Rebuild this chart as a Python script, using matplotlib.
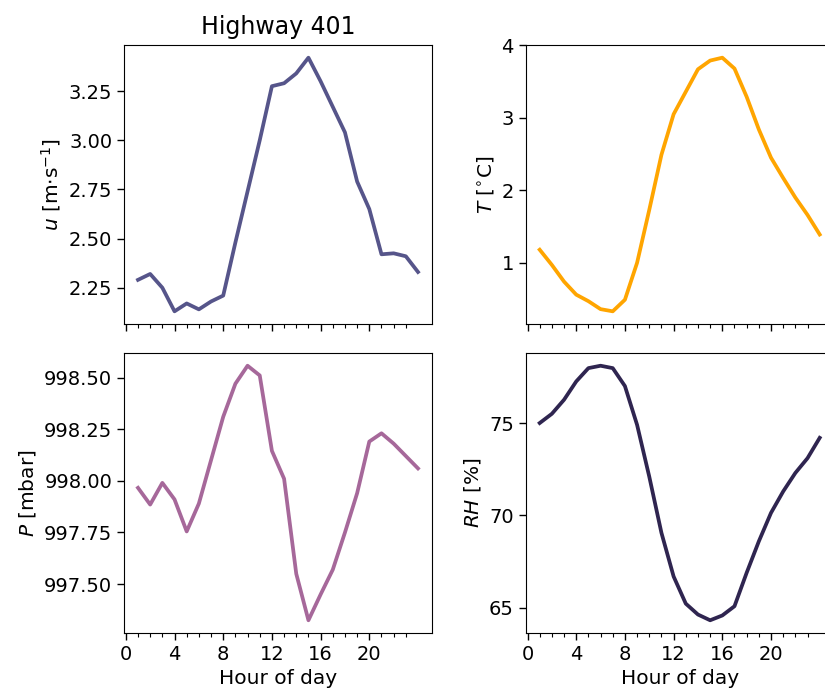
import matplotlib
matplotlib.use("Agg")
import matplotlib.pyplot as plt
from matplotlib.ticker import MultipleLocator, FormatStrFormatter

hours = list(range(1, 25))
wind_speed = [2.29, 2.32, 2.25, 2.13, 2.17, 2.14, 2.18, 2.21, 2.48, 2.74, 3.00, 3.275,
              3.29, 3.34, 3.42, 3.30, 3.17, 3.04, 2.79, 2.65, 2.42, 2.425, 2.41, 2.33]
temperature = [1.18, 0.97, 0.74, 0.56, 0.47, 0.36, 0.33, 0.49, 1.00, 1.73, 2.49, 3.05,
               3.36, 3.67, 3.79, 3.83, 3.68, 3.29, 2.84, 2.45, 2.17, 1.90, 1.66, 1.39]
pressure = [997.966, 997.885, 997.99, 997.91, 997.755, 997.89, 998.10, 998.31, 998.47,
            998.557, 998.51, 998.145, 998.01, 997.55, 997.325, 997.45, 997.57, 997.75,
            997.94, 998.19, 998.23, 998.18, 998.12, 998.06]
humidity = [75.0, 75.5, 76.26, 77.25, 77.97, 78.1, 77.97, 77.0, 74.9, 72.1, 69.06, 66.7,
            65.23, 64.64, 64.33, 64.59, 65.09, 66.9, 68.6, 70.14, 71.3, 72.3, 73.1, 74.2]

major_ticks = [0, 4, 8, 12, 16, 20]
minor_ticks = list(range(0, 24))

fig = plt.figure(figsize=(8.25, 6.94), dpi=100)
w = 308 / 825
positions = {
    "u": [124 / 825, 1 - 324 / 694, w, 279 / 694],
    "T": [525.7 / 825, 1 - 324 / 694, w, 279 / 694],
    "P": [124 / 825, 1 - 633 / 694, w, 280 / 694],
    "RH": [525.7 / 825, 1 - 633 / 694, w, 280 / 694],
}
specs = [
    ("u", wind_speed, "#56558a", r"$u$ [m$\cdot$s$^{-1}$]", 0.25, "%.2f"),
    ("T", temperature, "#ffa500", r"$T$ [$^{\circ}$C]", 1, "%d"),
    ("P", pressure, "#a6689a", r"$P$ [mbar]", 0.25, "%.2f"),
    ("RH", humidity, "#2f2550", r"$RH$ [%]", 5, "%d"),
]

for key, vals, col, lab, step, fmt in specs:
    ax = fig.add_axes(positions[key])
    ax.plot(hours, vals, color=col, lw=2.7)
    ax.set_xticks(major_ticks)
    ax.set_xticks(minor_ticks, minor=True)
    ax.yaxis.set_major_locator(MultipleLocator(step))
    ax.yaxis.set_major_formatter(FormatStrFormatter(fmt))
    ax.set_ylabel(lab, fontsize=14.5)
    ax.tick_params(axis="both", which="major", labelsize=14, length=5, width=1)
    ax.tick_params(axis="x", which="minor", length=3, width=0.8)
    if key in ("u", "T"):
        ax.tick_params(axis="x", labelbottom=False)
    else:
        ax.set_xlabel("Hour of day", fontsize=14.5)
    if key == "u":
        ax.set_title("Highway 401", fontsize=17, pad=8)

fig.savefig("out.png", dpi=100)
